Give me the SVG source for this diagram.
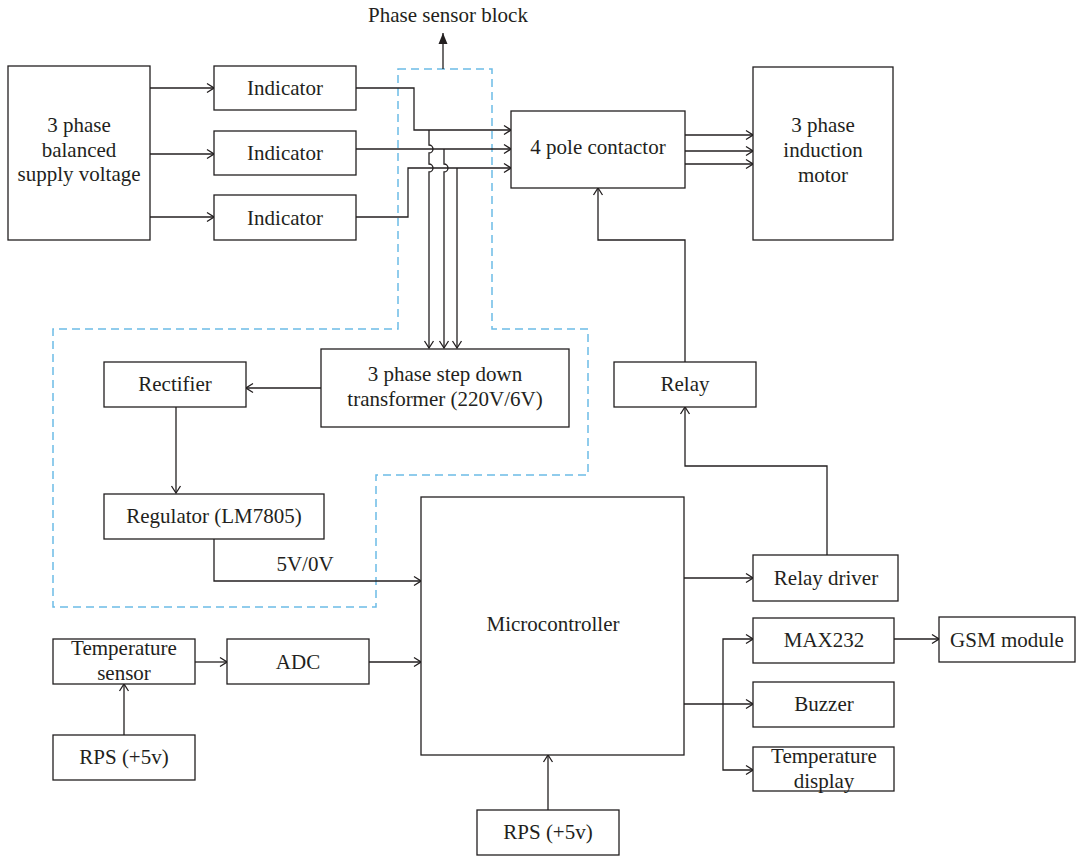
<svg xmlns="http://www.w3.org/2000/svg" width="1078" height="856" viewBox="0 0 1078 856">
<style>
.box{fill:#fff;stroke:#231f20;stroke-width:1.3}
.ln{fill:none;stroke:#231f20;stroke-width:1.3}
.arr{marker-end:url(#ah)}
.t{font-family:"Liberation Serif","Times New Roman",serif;font-size:21px;fill:#231f20;text-anchor:middle}
.dash{fill:none;stroke:#6cbce6;stroke-width:1.5;stroke-dasharray:8 5}
</style>
<defs>
<marker id="ah" markerUnits="userSpaceOnUse" viewBox="-9 -6 10 12" refX="0" refY="0" markerWidth="10" markerHeight="12" orient="auto">
<path d="M-7,-4.5 L0,0 L-7,4.5" fill="none" stroke="#231f20" stroke-width="1.3"/>
</marker>
<marker id="ahs" markerUnits="userSpaceOnUse" viewBox="-9 -6 10 12" refX="0" refY="0" markerWidth="10" markerHeight="12" orient="auto-start-reverse">
<path d="M-7,-4.5 L0,0 L-7,4.5" fill="none" stroke="#231f20" stroke-width="1.3"/>
</marker>
<marker id="fh" markerUnits="userSpaceOnUse" viewBox="-12 -6 13 12" refX="0" refY="0" markerWidth="13" markerHeight="12" orient="auto">
<path d="M-11,-4.5 L0,0 L-11,4.5 Z" fill="#231f20"/>
</marker>
</defs>
<rect width="1078" height="856" fill="#fff"/>

<path class="dash" d="M398,69 H492 V329 H588 V475 H376 V607 H53 V329 H398 Z"/>
<text class="t" x="448" y="22">Phase sensor block</text>

<g id="connectors">
<path class="ln" d="M443,69 V33" marker-end="url(#fh)"/>
<path class="ln arr" d="M150,88 H214"/>
<path class="ln arr" d="M150,154 H214"/>
<path class="ln arr" d="M150,217 H214"/>
<path class="ln arr" d="M356,88 H414 V130 H511"/>
<path class="ln arr" d="M356,149 H511"/>
<path class="ln arr" d="M356,217 H408 V168 H511"/>
<path class="ln arr" d="M429,130 V145 A4,4 0 0 1 429,153 V164 A4,4 0 0 1 429,172 V348"/>
<path class="ln arr" d="M444,149 V164 A4,4 0 0 1 444,172 V348"/>
<path class="ln arr" d="M457,168 V348"/>
<path class="ln arr" d="M685,135 H753"/>
<path class="ln arr" d="M685,151 H753"/>
<path class="ln arr" d="M685,164 H753"/>
<path class="ln arr" d="M321,388 H246"/>
<path class="ln arr" d="M176,407 V493"/>
<path class="ln arr" d="M214,539 V581 H421"/>
<path class="ln arr" d="M685,362 V240 H598 V188"/>
<path class="ln arr" d="M827,555 V466 H685 V407"/>
<path class="ln arr" d="M684,578 H753"/>
<path class="ln arr" d="M894,639 H939"/>
<path class="ln arr" d="M684,704 H753"/>
<path class="ln" d="M753,639 H723 V770 H753" marker-start="url(#ahs)" marker-end="url(#ah)"/>
<path class="ln arr" d="M195,662 H227"/>
<path class="ln arr" d="M369,662 H421"/>
<path class="ln arr" d="M124,735 V684"/>
<path class="ln arr" d="M548,810 V755"/>
</g>
<text class="t" x="305" y="571">5V/0V</text>

<g id="supply"><rect class="box" x="8" y="66" width="142" height="174"/>
<text class="t" x="79" y="132">3 phase</text><text class="t" x="79" y="157">balanced</text><text class="t" x="79" y="181">supply voltage</text></g>
<g id="ind1"><rect class="box" x="214" y="66" width="142" height="44"/><text class="t" x="285" y="95">Indicator</text></g>
<g id="ind2"><rect class="box" x="214" y="131" width="142" height="44"/><text class="t" x="285" y="160">Indicator</text></g>
<g id="ind3"><rect class="box" x="214" y="195" width="142" height="45"/><text class="t" x="285" y="225">Indicator</text></g>
<g id="contactor"><rect class="box" x="511" y="111" width="174" height="77"/><text class="t" x="598" y="154">4 pole contactor</text></g>
<g id="motor"><rect class="box" x="753" y="67" width="140" height="173"/>
<text class="t" x="823" y="132">3 phase</text><text class="t" x="823" y="157">induction</text><text class="t" x="823" y="182">motor</text></g>
<g id="transformer"><rect class="box" x="321" y="349" width="248" height="78"/>
<text class="t" x="445" y="381">3 phase step down</text><text class="t" x="445" y="406">transformer (220V/6V)</text></g>
<g id="rectifier"><rect class="box" x="104" y="362" width="142" height="45"/><text class="t" x="175" y="391">Rectifier</text></g>
<g id="regulator"><rect class="box" x="104" y="494" width="220" height="45"/><text class="t" x="214" y="523">Regulator (LM7805)</text></g>
<g id="relay"><rect class="box" x="614" y="362" width="142" height="45"/><text class="t" x="685" y="391">Relay</text></g>
<g id="micro"><rect class="box" x="421" y="497" width="263" height="258"/><text class="t" x="553" y="631">Microcontroller</text></g>
<g id="relaydriver"><rect class="box" x="753" y="555" width="145" height="46"/><text class="t" x="826" y="585">Relay driver</text></g>
<g id="max232"><rect class="box" x="753" y="618" width="141" height="45"/><text class="t" x="824" y="647">MAX232</text></g>
<g id="gsm"><rect class="box" x="939" y="617" width="136" height="45"/><text class="t" x="1007" y="647">GSM module</text></g>
<g id="buzzer"><rect class="box" x="753" y="682" width="141" height="45"/><text class="t" x="824" y="711">Buzzer</text></g>
<g id="tempdisplay"><rect class="box" x="753" y="747" width="141" height="44"/>
<text class="t" x="824" y="763">Temperature</text><text class="t" x="824" y="788">display</text></g>
<g id="tempsensor"><rect class="box" x="53" y="639" width="142" height="45"/>
<text class="t" x="124" y="655">Temperature</text><text class="t" x="124" y="680">sensor</text></g>
<g id="adc"><rect class="box" x="227" y="639" width="142" height="45"/><text class="t" x="298" y="669">ADC</text></g>
<g id="rps1"><rect class="box" x="53" y="735" width="142" height="45"/><text class="t" x="124" y="764">RPS (+5v)</text></g>
<g id="rps2"><rect class="box" x="477" y="810" width="142" height="45"/><text class="t" x="548" y="839">RPS (+5v)</text></g>
</svg>
